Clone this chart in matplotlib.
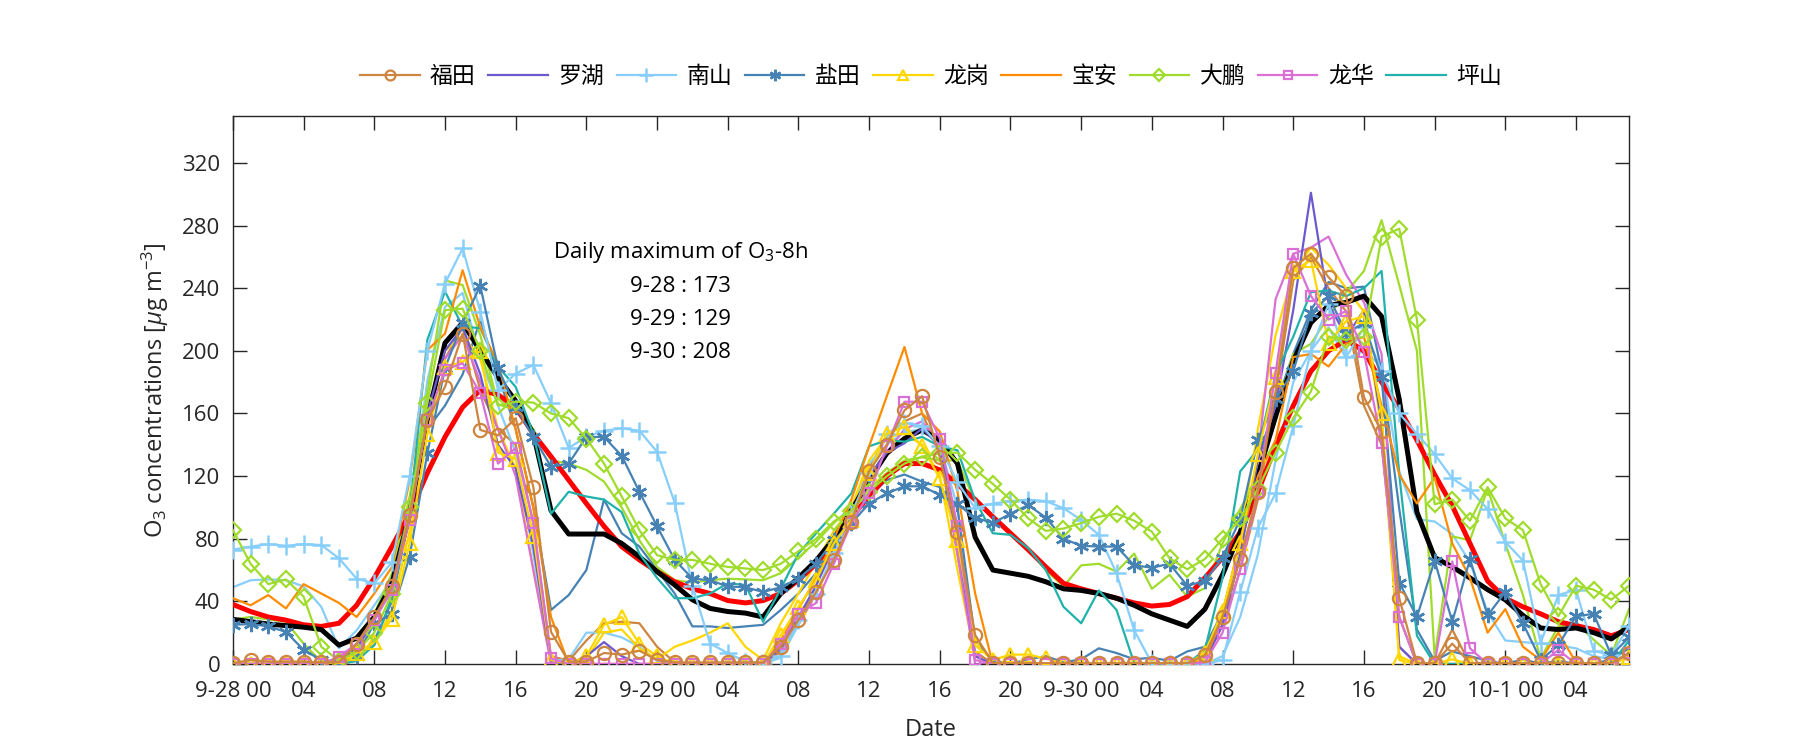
import matplotlib
matplotlib.use("Agg")
import matplotlib.pyplot as plt
import numpy as np

plt.rcParams['font.family'] = ['Open Sans', 'Noto Sans CJK SC', 'DejaVu Sans']
plt.rcParams['mathtext.fontset'] = 'custom'
plt.rcParams['mathtext.rm'] = 'Open Sans'
plt.rcParams['mathtext.it'] = 'Open Sans:italic'

hours = np.arange(80)

xtick_pos = list(range(0, 80, 4))
xtick_labels = ['9-28 00', '04', '08', '12', '16', '20',
                '9-29 00', '04', '08', '12', '16', '20',
                '9-30 00', '04', '08', '12', '16', '20',
                '10-1 00', '04']
ytick_pos = list(range(0, 321, 40))

# thick lines
black_mean = [28.5, 27, 25.5, 24.5, 23.5, 22, 12, 16.5, 30, 51.5, 96, 156, 205, 218,
              200, 183, 168, 147, 98, 83, 83, 83, 77, 68.5, 59, 50.5, 41, 35.5,
              33.5, 32.5, 30, 45, 55, 66, 80, 98, 117.5, 134.5, 144, 149.5, 143, 128,
              81, 60, 58, 56, 52.5, 48, 47, 45, 42, 37.5, 32, 28, 24, 35,
              57, 84, 121, 158, 193.5, 218, 229, 231, 235, 222, 169, 97, 68,
              62, 55, 47.5, 41, 31, 23, 22, 23, 20, 16, 24]
red_mean = [38, 33.5, 30, 28, 25, 24, 26, 37.5, 55, 75, 96, 122, 145, 164,
            175, 172, 164, 147, 132.5, 117.5, 102.5, 88, 75, 66.5, 59, 52.5, 48, 45,
            40.5, 39, 40.5, 45, 53.5, 64, 77, 94, 107, 120, 128, 128, 124, 115,
            105, 94, 83.5, 73, 62, 51.5, 48, 45, 42, 39, 37, 38, 43, 55,
            68, 84, 110, 139, 165, 187, 200, 207, 200, 180, 163, 143, 121,
            101, 77, 53, 42, 36.5, 32, 27, 24.5, 22, 18, 22]

# legend series (markers)
futian_m = [0.5, 2.5, 1.5, 1.5, 1.5, 1, 1, 13, 30, 49.5, 95, 156, 177, 211,
            149.5, 146, 157, 113, 20.5, 1.5, 1.5, 7, 6, 8.5, 2.5, 1, 1, 1,
            1, 1, 1, 11, 28, 46, 66.5, 91, 123, 140, 162, 171, 132, 84.5,
            18.5, 0.5, 0.5, 0.5, 0.5, 0.5, 0.5, 0.5, 0.5, 0.5, 0.5, 0.5, 0.5, 5.5,
            30, 67, 110, 174, 253, 262, 247, 235, 170.5, 148.5, 42, 0.5, 0.5,
            13, 0.5, 0.5, 0.5, 0.5, 0.5, 0.5, 0.5, 0.5, 0.5, 7]
luohu = [0, 0, 0, 0, 0, 0, 2, 10, 28, 50, 100, 160, 200, 215,
         185, 140, 125, 75, 2, 0, 5, 14, 5, 0, 0, 0, 0, 0,
         0, 0, 0, 10, 30, 50, 75, 95, 120, 135, 141, 150.5, 139, 80,
         5, 0, 0, 0, 0, 0, 0, 0, 0, 0, 0, 0, 0, 2,
         25, 70, 130, 165, 226, 301, 230, 209, 226, 154, 11, 0, 0,
         0, 0, 0, 0, 0, 0, 0, 0, 0, 0, 5]
nanshan_m = [73, 75, 76.5, 75.5, 76.5, 76, 67.5, 54.5, 51.5, 65, 120, 200, 243, 265.5,
             225, 175, 185.5, 191, 166.5, 138, 145, 149, 150.5, 149, 135.5, 103, 50, 13,
             7, 1.5, 0.5, 5, 28, 45, 71, 96, 122, 147, 154, 152, 139, 116,
             99.5, 102.5, 104, 105, 104, 99.5, 92, 82.5, 58, 21.5, 0.5, 0, 0, 0,
             2.5, 46, 87, 109, 152, 200, 230, 196, 215, 187, 160, 147, 134,
             118.5, 111, 99, 78, 66, 13.5, 44, 47.5, 8.5, 5.5, 24.5]
yantian_m = [25, 25.5, 24, 20.5, 9, 2.5, 1.5, 5, 26, 32, 68.5, 134.5, 189, 218,
             241.5, 189, 164, 145, 126, 128, 145, 145, 133, 110, 88, 66.5, 54.5, 53.5,
             49.5, 49, 46, 49, 54.5, 64, 79, 90, 102.5, 109, 113.5, 113.5, 108, 102,
             93.5, 90, 96, 101.5, 93.5, 80, 75.5, 75, 75, 63, 61.5, 64, 50, 53,
             68, 92.5, 143, 169, 187, 224, 235, 211, 218, 183, 52, 30, 66,
             27, 67, 31, 46, 26, 2.5, 12, 30.5, 32, 5.5, 17]
longgang_m = [0, 0, 0, 0, 0, 0, 0, 7, 14, 29, 77, 147, 190, 193,
              200, 135, 131, 82, 2.5, 0, 5, 25, 30, 13, 5, 0, 0, 0,
              0, 0, 0, 18.5, 36.5, 53.5, 77, 92, 122, 147, 151.5, 139, 118.5, 79,
              12, 2.5, 6, 6, 3.5, 0, 0, 0, 0, 0, 0, 0, 0, 7,
              34, 77, 134, 183, 251, 258, 205, 219, 222, 160.5, 2.5, 0, 0,
              3, 0, 0, 0, 0, 0, 0, 0, 0, 0, 4.5]
baoan = [42, 37.5, 44, 35.5, 51, 45, 39, 30, 45, 62, 117.5, 200.5, 211, 251.5,
         215, 192, 150, 100, 30, 0, 0, 0, 0, 0, 0, 0, 0, 0,
         0, 0, 0, 15, 35, 55, 80, 105, 139, 171, 202.5, 160, 148.5, 110,
         45, 0, 0, 0, 0, 0, 0, 0, 0, 0, 0, 0, 0, 3,
         30, 80, 120, 143, 196, 198, 190, 204.5, 209, 165, 121, 102.5, 119,
         77, 55, 20, 35, 11, 2.5, 20, 1, 0, 0, 5]
dapeng_m = [85.5, 64, 51, 54, 43, 11, 2, 8, 20, 45, 100, 167, 226, 227,
            200, 165, 167.5, 167, 160, 157, 144, 128, 107, 85.5, 69.5, 66.5, 66.5, 64,
            62, 61, 60, 64, 72, 80, 91, 98, 110, 120, 128, 132.5, 134.5, 135,
            124, 115, 105, 93, 85, 86.5, 90, 94, 96, 91.5, 84.5, 67.5, 60.5, 67,
            80, 92.5, 112, 135, 157, 174, 209, 207, 209, 273, 278, 220, 102,
            105, 91.5, 113, 93, 85.5, 51, 30.5, 50, 47.5, 41, 50]
longhua_m = [0, 0, 0, 0, 0, 0, 4.5, 13, 28, 47, 92, 156, 188, 192,
             173, 128, 138, 90, 3.5, 0, 0, 0, 0, 0, 0, 0, 0, 0,
             0, 0, 0, 13, 32, 39, 64, 90, 109, 139, 167.5, 167.5, 144, 88,
             2.5, 0, 0, 0, 0, 0, 0, 0, 0, 0, 0, 0, 0, 1,
             20, 60.5, 110, 186, 262, 235, 220, 225.5, 199, 141, 30, 0, 0,
             65.5, 10, 0, 0, 0, 0, 9, 0, 0, 0, 7]
pingshan = [0, 0, 0, 0, 0, 0, 0, 2, 12, 43, 96, 207, 238, 215.5,
            214.5, 190, 177, 147, 96, 110, 107, 105, 97, 70.5, 55, 42, 42, 45,
            51.5, 50.5, 27, 48, 70.5, 83.5, 96, 109, 139, 143, 142, 145, 139, 136.5,
            104.5, 83.5, 82.5, 74, 60, 36.5, 26, 47, 34.5, 0.5, 0, 0, 0, 9,
            55, 123, 137, 185, 209, 237.5, 238.5, 235, 240, 251, 121, 18, 0,
            0, 0, 0, 0, 0, 0, 0, 0, 0, 0, 15]

# second (plain) series of the marker stations
futian_p = [0, 0, 0, 0, 0, 0, 0, 10, 28, 50, 100, 165, 195, 215,
            175, 150, 140, 90, 5, 2, 15, 26, 27, 26, 11, 1, 0, 0,
            0, 0, 0, 8, 25, 45, 70, 95, 125, 145, 155, 160, 135, 70,
            8, 0, 0, 0, 0, 0, 0, 0, 0, 0, 0, 0, 0, 3,
            25, 60, 105, 170, 245, 260, 240, 225, 165, 140, 30, 0, 0,
            22, 0, 0, 0, 0, 0, 0, 0, 0, 0, 5]
nanshan_p = [49, 53.5, 54, 53.5, 49.5, 36.5, 10, 21.5, 37.5, 54, 96, 181, 228, 237,
             195, 165, 135, 70, 2, 3, 20, 20, 17, 11, 2, 0, 0, 0,
             0, 0, 0, 4, 25, 50, 78, 100, 128, 140, 148, 150, 140, 100,
             5, 0, 0, 0, 0, 0, 0, 0, 0, 0, 0, 0, 0, 0,
             5, 30, 70, 130, 180, 200, 215, 195, 200, 190, 123, 92.5, 91,
             83, 65, 33, 15, 14, 13, 12, 10, 5, 3, 10]
yantian_p = [0, 0, 0, 0, 0, 0, 0, 2, 15, 40, 95, 150, 165, 185,
             220, 185, 150, 100, 34.5, 44, 60, 105, 83.5, 75, 60, 45, 24, 24,
             23, 24, 25, 34.5, 45, 58, 75, 92, 107, 117.5, 121, 116.5, 113, 100,
             15, 2, 0, 3, 5, 1, 3, 10, 7, 3, 4, 2, 8, 11,
             33, 77, 132, 165, 198, 226, 244, 240, 241, 187, 99, 22, 2,
             8, 5, 2, 0, 3, 0, 2, 0, 0, 3, 10]
longgang_p = [0, 0, 0, 0, 0, 0, 0, 5, 12, 35, 85, 155, 200, 210,
              195, 150, 125, 60, 2, 0, 3, 20, 22, 10, 3, 11, 15, 20,
              26, 11, 2.5, 26, 45, 65, 85, 100, 130, 145, 147, 140, 120, 60,
              5, 0, 0, 0, 0, 0, 0, 0, 0, 0, 0, 0, 0, 5,
              30, 80, 150, 210, 250, 266, 255, 240, 225, 150, 5, 0, 0,
              0, 0, 0, 0, 0, 0, 0, 0, 0, 0, 5]
dapeng_p = [28.5, 30, 28.5, 27, 13, 1.5, 0, 7, 32, 58, 107, 173, 245, 242,
            210, 166, 162, 150, 130, 128, 124, 116.5, 100, 79, 62, 53.5, 52, 53.5,
            54.5, 54, 53.5, 58, 68, 78, 90, 100, 112, 122, 130, 132, 130, 130,
            103.5, 94, 83.5, 73, 60, 49.5, 63, 64, 59, 70.5, 48, 57, 43, 48.5,
            77, 99, 119, 160, 198, 204.5, 222, 237.5, 251, 283.5, 242, 200, 4.5,
            81.5, 79, 112, 77, 44, 3.5, 24, 26.5, 15.5, 5.5, 35]
longhua_p = [0, 0, 0, 0, 0, 0, 3, 12, 30, 50, 100, 165, 195, 210,
             180, 150, 120, 60, 0, 0, 0, 0, 0, 0, 0, 0, 0, 0,
             0, 0, 0, 10, 30, 45, 70, 95, 115, 135, 150, 155, 140, 70,
             0, 0, 0, 0, 0, 0, 0, 0, 0, 0, 0, 0, 0, 2,
             25, 70, 132, 233, 262, 266, 273, 248.5, 231, 198, 11, 0, 0,
             0, 0, 0, 0, 0, 0, 0, 0, 0, 0, 5]

annot_title = r'Daily maximum of O$_3$-8h'
annot_lines = ['9-28 : 173', '9-29 : 129', '9-30 : 208']

C = {
    '福田': '#CD853F', '罗湖': '#6A5ACD', '南山': '#87CEFA', '盐田': '#4682B4',
    '龙岗': '#FFD700', '宝安': '#FF8C00', '大鹏': '#A0DC2C', '龙华': '#DA70D6',
    '坪山': '#20B2AA',
}
TXT = '#262626'

fig = plt.figure(figsize=(18, 7.5), dpi=100)
ax = fig.add_axes([0.1294, 0.1147, 0.7756, 0.7306])

lw = 1.6
# plain second series
for name, data in [('福田', futian_p), ('南山', nanshan_p), ('盐田', yantian_p),
                   ('龙岗', longgang_p), ('大鹏', dapeng_p), ('龙华', longhua_p)]:
    ax.plot(hours, data, color=C[name], lw=lw, zorder=2)

ax.plot(hours, red_mean, color='#FF0000', lw=3.6, zorder=3)
ax.plot(hours, black_mean, color='black', lw=3.6, zorder=3.5)

asterisk = (6, 2, 0)
legend_series = [
    ('福田', futian_m, 'o', 9.5),
    ('罗湖', luohu, None, 0),
    ('南山', nanshan_m, '+', 13),
    ('盐田', yantian_m, asterisk, 11),
    ('龙岗', longgang_m, '^', 10),
    ('宝安', baoan, None, 0),
    ('大鹏', dapeng_m, 'D', 8.5),
    ('龙华', longhua_m, 's', 7.5),
    ('坪山', pingshan, None, 0),
]
zs = {'福田': 10, '罗湖': 4, '南山': 5, '盐田': 6, '龙岗': 7, '宝安': 4.5,
      '大鹏': 8, '龙华': 9, '坪山': 4.2}
handles = []
for name, data, mk, ms in legend_series:
    if mk is None:
        h, = ax.plot(hours, data, color=C[name], lw=lw, label=name, zorder=zs[name])
    else:
        mew = 1.8 if mk in ('+', asterisk) else 1.6
        h, = ax.plot(hours, data, color=C[name], lw=lw, marker=mk, ms=ms,
                     mfc='none', mec=C[name], mew=mew, label=name, zorder=zs[name])
    handles.append(h)

ax.set_xlim(0, 79)
ax.set_ylim(0, 350)
ax.set_xticks(xtick_pos)
ax.set_xticklabels(xtick_labels)
ax.set_yticks(ytick_pos)
ax.tick_params(direction='in', length=10, width=1.0, top=True, right=True,
               labelsize=16, colors=TXT)
ax.tick_params(axis='x', pad=12)
ax.tick_params(axis='y', pad=9)
for s in ax.spines.values():
    s.set_linewidth(1.0)
    s.set_color(TXT)

ax.set_xlabel('Date', fontsize=17, color=TXT, labelpad=12)
ax.set_ylabel(r'O$_3$ concentrations [$\mu$g m$^{-3}$]', fontsize=17, color=TXT, labelpad=8)

tx = 25.35
ax.text(tx, 263, annot_title, ha='center', va='center', fontsize=16, color='black')
for i, line in enumerate(annot_lines):
    ax.text(tx, 241 - i * 21, line, ha='center', va='center', fontsize=16, color='black')

leg = ax.legend(handles=handles, loc='center', bbox_to_anchor=(0.5, 1.072), ncol=9,
                frameon=False, fontsize=16.5, handlelength=2.6, handletextpad=0.45,
                columnspacing=0.55, markerscale=0.75)

fig.savefig('out.png', dpi=100)
